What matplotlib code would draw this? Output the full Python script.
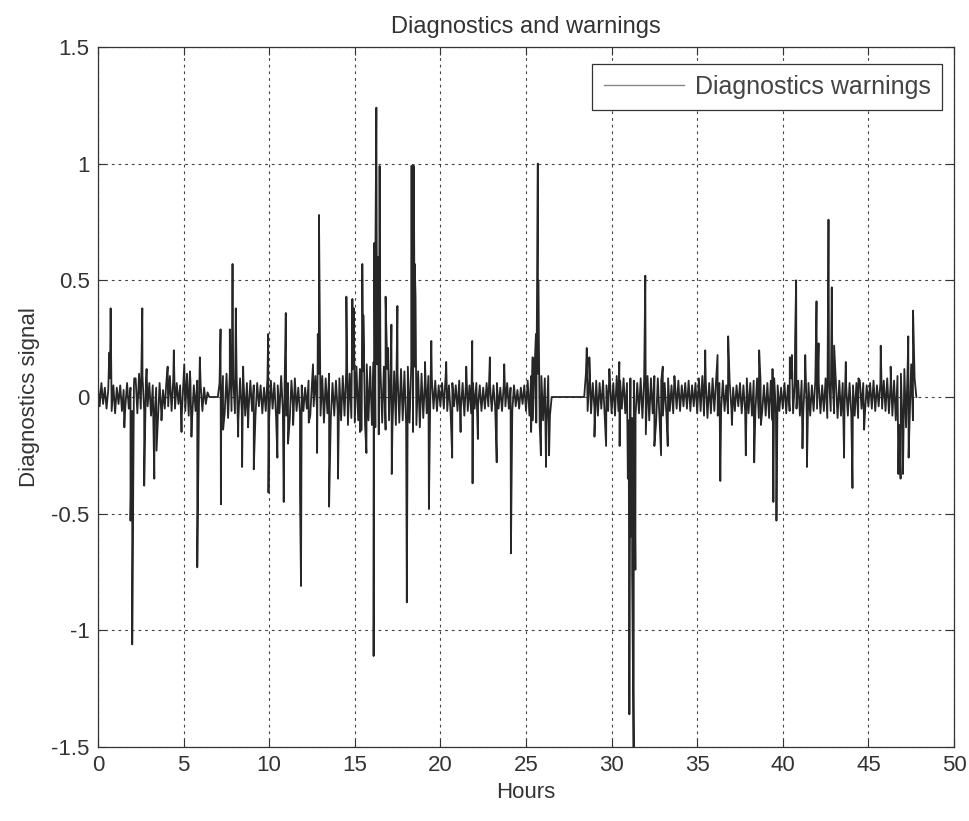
import matplotlib
matplotlib.use('Agg')
import matplotlib.pyplot as plt
import numpy as np

plt.rcParams['font.family'] = ['Liberation Sans', 'DejaVu Sans']

# background trace, one sample every 0.1 h (0.0 .. 26.5 h)
base1 = [
    0.05, -0.04, 0.06, -0.03, 0.04, -0.05, 0.03, 0.08, -0.06, 0.05,
    -0.07, 0.04, -0.03, 0.05, -0.06, 0.03, -0.04, 0.06, -0.05, 0.04,
    -0.06, 0.05, 0.08, -0.07, 0.10, -0.05, 0.09, -0.06, 0.07, -0.04,
    0.06, -0.08, 0.05, -0.09, 0.04, -0.10, 0.06, -0.07, 0.03, -0.05,
    0.07, -0.04, 0.09, -0.06, 0.08, -0.05, 0.06, -0.03, 0.05, -0.07,
    0.08, -0.06, 0.10, -0.08, 0.07, -0.09, 0.05, -0.06, 0.07, -0.04,
    0.05, -0.06, 0.04, -0.03, 0.02, 0.0, 0.0, 0.0, 0.0, 0.0,
    0.0, 0.06, -0.08, 0.09, -0.07, 0.08, -0.09, 0.10, -0.06, 0.08,
    -0.07, 0.09, -0.10, 0.08, -0.06, 0.07, -0.08, 0.06, -0.05, 0.07,
    -0.06, 0.05, -0.08, 0.06, -0.04, 0.05, -0.07, 0.04, -0.06, 0.08,
    -0.09, 0.07, -0.05, 0.06, -0.08, 0.05, -0.07, 0.09, -0.06, 0.05,
    -0.08, 0.06, -0.10, 0.07, -0.05, 0.08, -0.06, 0.04, -0.07, 0.05,
    -0.06, 0.04, -0.05, 0.07, -0.08, 0.06, -0.04, 0.09, -0.07, 0.10,
    -0.08, 0.09, -0.11, 0.08, -0.07, 0.10, -0.09, 0.06, -0.08, 0.07,
    -0.06, 0.08, -0.10, 0.09, -0.08, 0.11, -0.12, 0.10, -0.09, 0.12,
    -0.11, 0.13, -0.10, 0.12, -0.14, 0.11, -0.12, 0.14, -0.10, 0.13,
    -0.12, 0.15, -0.13, 0.14, -0.16, 0.12, -0.11, 0.13, -0.14, 0.12,
    -0.10, 0.12, -0.13, 0.11, -0.12, 0.10, -0.11, 0.12, -0.10, 0.11,
    -0.12, 0.13, -0.11, 0.14, -0.15, 0.13, -0.12, 0.11, -0.13, 0.10,
    -0.09, 0.08, -0.07, 0.09, -0.06, 0.08, -0.05, 0.07, -0.06, 0.05,
    -0.04, 0.06, -0.05, 0.08, -0.06, 0.05, -0.07, 0.06, -0.04, 0.05,
    -0.06, 0.07, -0.05, 0.06, -0.08, 0.07, -0.06, 0.05, -0.07, 0.06,
    -0.05, 0.06, -0.04, 0.05, -0.06, 0.04, -0.05, 0.06, -0.04, 0.05,
    -0.06, 0.05, -0.04, 0.06, -0.05, 0.04, -0.06, 0.05, -0.04, 0.06,
    -0.05, 0.04, -0.06, 0.05, -0.04, 0.03, -0.05, 0.04, -0.03, 0.05,
    -0.06, 0.07, -0.08, 0.09, -0.10, 0.12, -0.11, 0.10, -0.12, 0.09,
    -0.10, 0.08, -0.12, 0.09, -0.08, 0.0,
]
# second part of the record (28.4 .. 47.8 h)
base2 = [
    0.0, 0.10, -0.06, 0.08, -0.07, 0.06,
    -0.05, 0.07, -0.08, 0.06, -0.05, 0.07, -0.09, 0.05, -0.06, 0.08,
    -0.07, 0.06, -0.08, 0.09, -0.06, 0.07, -0.05, 0.08, -0.07, 0.06,
    -0.10, 0.08, -0.09, 0.07, -0.08, 0.06, -0.07, 0.08, -0.09, 0.07,
    -0.08, 0.09, -0.10, 0.08, -0.07, 0.09, -0.11, 0.08, -0.09, 0.07,
    -0.08, 0.06, -0.07, 0.08, -0.06, 0.05, -0.07, 0.06, -0.05, 0.07,
    -0.06, 0.05, -0.04, 0.06, -0.05, 0.07, -0.06, 0.05, -0.04, 0.06,
    -0.07, 0.08, -0.06, 0.09, -0.08, 0.07, -0.09, 0.06, -0.07, 0.08,
    -0.06, 0.07, -0.08, 0.06, -0.05, 0.07, -0.06, 0.05, -0.07, 0.06,
    -0.05, 0.04, -0.06, 0.05, -0.04, 0.06, -0.07, 0.05, -0.06, 0.08,
    -0.07, 0.06, -0.08, 0.07, -0.06, 0.08, -0.09, 0.07, -0.06, 0.05,
    -0.08, 0.06, -0.09, 0.07, -0.10, 0.08, -0.07, 0.05, -0.06, 0.04,
    -0.05, 0.06, -0.07, 0.05, -0.06, 0.08, -0.07, 0.06, -0.05, 0.07,
    -0.08, 0.07, -0.06, 0.09, -0.07, 0.06, -0.08, 0.05, -0.06, 0.07,
    -0.05, 0.06, -0.07, 0.05, -0.06, 0.08, -0.09, 0.07, -0.06, 0.08,
    -0.07, 0.06, -0.09, 0.07, -0.08, 0.06, -0.07, 0.05, -0.08, 0.06,
    -0.07, 0.05, -0.08, 0.06, -0.09, 0.07, -0.05, 0.06, -0.07, 0.05,
    -0.04, 0.06, -0.05, 0.07, -0.06, 0.05, -0.04, 0.06, -0.05, 0.07,
    -0.06, 0.08, -0.07, 0.06, -0.08, 0.07, -0.10, 0.09, -0.12, 0.10,
    -0.14, 0.12, -0.13, 0.15, -0.12, 0.14, -0.10, 0.08, 0.0,
]
base1_hours = np.round(np.arange(len(base1)) * 0.1, 1)
base2_hours = np.round(28.4 + np.arange(len(base2)) * 0.1, 1)

# warning spikes
spike_hours = [
    0.66, 0.74, 0.99, 1.54, 1.90, 2.00, 2.12, 2.59, 2.70, 2.84,
    3.29, 3.42, 3.71, 4.07, 4.43, 4.88, 5.04, 5.37, 5.46, 5.80,
    5.95, 7.16, 7.18, 7.31, 7.51, 7.70, 7.86, 8.05, 8.19, 8.42,
    8.48, 8.77, 9.10, 9.94, 9.96, 10.48, 10.85, 10.97, 11.10, 11.40,
    11.80, 11.86, 12.31, 12.56, 12.80, 12.84, 12.91, 13.50, 14.02, 14.51,
    14.55, 14.86, 14.95, 15.30, 15.44, 15.50, 15.68, 16.10, 16.14, 16.20,
    16.26, 16.35, 16.45, 16.80, 16.95, 17.14, 17.16, 17.49, 18.04, 18.30,
    18.38, 18.45, 18.50, 18.55, 19.10, 19.33, 19.47, 20.34, 20.69, 21.18,
    21.51, 21.86, 21.88, 22.19, 22.89, 23.29, 23.73, 24.12, 25.30, 25.39,
    25.58, 25.69, 25.72, 25.87, 26.17, 26.35,
    28.55, 28.70, 29.00, 29.68, 29.87, 30.45, 30.47, 30.95, 31.04, 31.10,
    31.20, 31.29, 31.39, 31.97, 32.00, 32.50, 32.89, 32.99, 33.28, 33.67,
    35.47, 36.19, 36.35, 36.81, 37.03, 37.84, 38.33, 38.62, 38.72, 39.40,
    39.45, 39.63, 40.41, 40.53, 40.72, 40.78, 41.15, 41.31, 41.41, 41.97,
    42.09, 42.67, 42.86, 43.00, 43.58, 43.68, 44.07, 44.42, 44.75, 45.72,
    46.30, 46.75, 46.88, 47.02, 47.33, 47.35, 47.61,
]
spike_values = [
    0.19, 0.38, -0.06, -0.13, -0.53, -1.06, 0.08, 0.38, -0.38, 0.12,
    -0.35, -0.23, -0.10, 0.13, 0.20, -0.15, 0.14, 0.11, -0.17, -0.73,
    0.17, 0.29, -0.46, -0.14, 0.10, 0.29, 0.57, 0.38, -0.17, -0.30,
    0.13, -0.13, -0.31, 0.27, -0.41, -0.26, -0.45, 0.36, -0.20, -0.12,
    -0.41, -0.81, -0.11, 0.14, -0.24, 0.27, 0.78, -0.47, -0.35, 0.43,
    0.16, 0.42, 0.38, -0.15, 0.57, 0.35, -0.24, -1.11, 0.66, 0.55,
    1.24, 0.60, 0.99, 0.43, 0.21, 0.31, -0.33, 0.39, -0.88, 0.99,
    0.99, 0.99, 0.57, 0.43, 0.15, -0.48, 0.24, 0.15, -0.26, -0.15,
    0.13, 0.24, -0.37, -0.18, 0.17, -0.28, 0.14, -0.67, -0.15, 0.17,
    0.27, 1.00, 0.50, -0.25, -0.30, -0.25,
    0.21, 0.17, -0.17, -0.21, 0.12, 0.15, -0.21, -0.35, -1.36, -0.60,
    -0.75, -1.55, -0.74, 0.52, -0.16, -0.21, -0.25, 0.13, -0.21, 0.09,
    0.20, 0.18, -0.36, 0.26, -0.12, -0.25, -0.28, 0.20, -0.12, 0.12,
    -0.45, -0.53, 0.17, 0.18, 0.25, 0.50, -0.22, 0.18, -0.30, 0.41,
    0.23, 0.76, 0.47, 0.22, -0.26, 0.15, -0.39, 0.08, -0.14, 0.22,
    0.13, -0.33, -0.35, -0.33, 0.26, -0.26, 0.37,
]

x_ticks = [0, 5, 10, 15, 20, 25, 30, 35, 40, 45, 50]
y_ticks = [-1.5, -1, -0.5, 0, 0.5, 1, 1.5]
y_tick_labels = ['-1.5', '-1', '-0.5', '0', '0.5', '1', '1.5']

# merge background and spikes into one time-ordered trace
hours = np.concatenate([base1_hours, base2_hours, spike_hours])
signal = np.concatenate([base1, base2, spike_values])
order = np.argsort(hours, kind='stable')
hours = hours[order]
signal = signal[order]

fig = plt.figure(figsize=(9.7, 8.21), dpi=100)
ax = fig.add_axes([0.101, 0.0901, 0.8825, 0.8527])

ax.plot(hours, signal, color='#262626', linewidth=1.3, label='Diagnostics warnings')

ax.set_xlim(0, 50)
ax.set_ylim(-1.5, 1.5)
ax.set_xticks(x_ticks)
ax.set_yticks(y_ticks)
ax.set_yticklabels(y_tick_labels)

ax.grid(True, color='#444444', linestyle=(0, (2.5, 3.5)), linewidth=0.8)
ax.tick_params(direction='in', length=6, width=0.8, top=True, right=True,
               labelsize=16, pad=6, colors='#333333')
for s in ax.spines.values():
    s.set_linewidth(0.9)
    s.set_color('#333333')

ax.set_title('Diagnostics and warnings', fontsize=17, pad=10, color='#333333')
ax.set_xlabel('Hours', fontsize=16, labelpad=4, color='#333333')
ax.set_ylabel('Diagnostics signal', fontsize=16, labelpad=8, color='#333333')

leg = ax.legend(loc='upper right', bbox_to_anchor=(0.986, 0.976), borderaxespad=0,
                fontsize=18, handlelength=3.2, handletextpad=0.45, borderpad=0.45,
                fancybox=False, framealpha=1, edgecolor='#333333', labelcolor='#444444')
leg.get_frame().set_linewidth(0.9)
for line in leg.get_lines():
    line.set_color('#888888')
    line.set_linewidth(1.0)

fig.savefig('out.png', dpi=100)
